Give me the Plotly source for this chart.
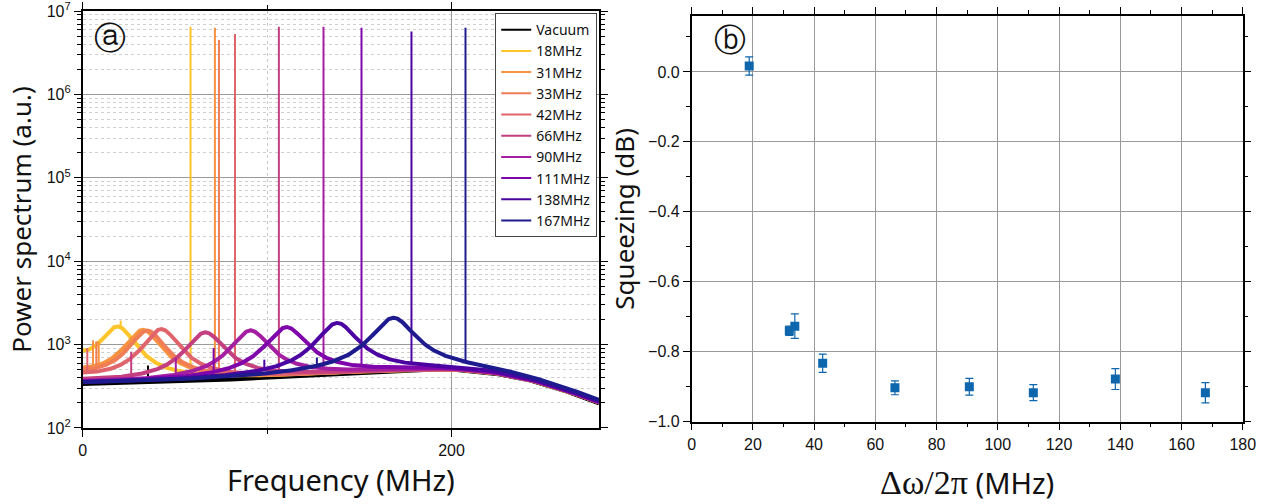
import numpy as np
import plotly.graph_objects as go

# ---------------- panel (a): power spectra ----------------
series_names = ["Vacuum", "18MHz", "31MHz", "33MHz", "42MHz", "66MHz",
                "90MHz", "111MHz", "138MHz", "167MHz"]
series_colors = ["#000000", "#fdc52a", "#f8923f", "#ef7d56", "#e0646c", "#c43f80",
                 "#a31ea1", "#7e06ab", "#4b03a1", "#1e1b8f"]

# common noise floor, read every 20 MHz
base_freq = [0, 20, 40, 60, 80, 100, 120, 140, 160, 180, 200, 220, 240, 260, 280]
base_level = [340, 345, 355, 370, 385, 405, 430, 455, 480, 500, 505, 468, 390, 290, 200]

# broad squeezing bump of each detuned series: centre (MHz), peak level, half width (MHz)
bump_center = [None, 19.0, 32.7, 35.0, 42.6, 66.5, 91.0, 110.5, 138.0, 168.5]
bump_peak = [None, 1580, 1480, 1450, 1520, 1400, 1480, 1620, 1820, 2100]
bump_hwhm = [None, 9.6, 10.0, 10.0, 10.0, 10.5, 10.5, 11.0, 11.0, 11.5]

# narrow spectral lines: position (MHz) and top level
spike_freq = [[35.4], [58.5, 20.6], [71.7, 8.7, 5.6], [73.9, 7.4], [82.6, 2.5],
              [106.4, 26.3], [130.6, 50.5], [151.2, 71.0], [178.3, 98.5], [207.6, 127.0]]
spike_level = [[560], [6.5e6, 1950], [6.3e6, 1080, 1130], [4.5e6, 1100], [5.3e6, 910],
               [6.5e6, 820], [6.5e6, 690], [6.3e6, 910], [5.7e6, 660], [6.3e6, 700]]
vacuum_scale = 0.99

freq = np.round(np.arange(0, 280.0001, 0.1), 2)

# ---------------- panel (b): squeezing vs detuning ----------------
detuning = [18.8, 31.9, 33.7, 42.8, 66.4, 90.7, 111.6, 138.4, 167.8]
squeezing = [0.017, -0.740, -0.727, -0.833, -0.903, -0.900, -0.917, -0.878, -0.917]
squeezing_err = [0.026, 0.013, 0.035, 0.026, 0.020, 0.024, 0.023, 0.030, 0.029]

a_xticks = [0, 200]
b_xticks = [0, 20, 40, 60, 80, 100, 120, 140, 160, 180]
b_yticks = [0.0, -0.2, -0.4, -0.6, -0.8, -1.0]

# ------------------------------------------------------------------
base = 10 ** np.interp(freq, base_freq, np.log10(base_level))


def lor(x, h):
    return h * h / (x * x + h * h)


fig = go.Figure()
for i, name in enumerate(series_names):
    if bump_center[i] is None:
        y = base * vacuum_scale
    else:
        c, h = bump_center[i], bump_hwhm[i]
        b_c = 10 ** np.interp(c, base_freq, np.log10(base_level))
        amp = bump_peak[i] - b_c
        y = base + amp * (lor(freq - c, h) + lor(freq + c, h))
    # broad noisy band (drawn thick)
    fig.add_trace(go.Scatter(
        x=freq, y=y, mode="lines", name=name, showlegend=False,
        line=dict(color=series_colors[i], width=4),
        xaxis="x", yaxis="y", hoverinfo="skip"))
    # narrow lines (drawn thin)
    sx, sy = [], []
    for sf, sl in zip(spike_freq[i], spike_level[i]):
        idx = int(np.argmin(np.abs(freq - sf)))
        sx += [freq[idx], freq[idx], None]
        sy += [y[idx], sl, None]
    fig.add_trace(go.Scatter(
        x=sx, y=sy, mode="lines", name=name, showlegend=True,
        line=dict(color=series_colors[i], width=2),
        xaxis="x", yaxis="y"))

blue = "#0e66ac"
fig.add_trace(go.Scatter(
    x=detuning, y=squeezing, mode="markers", showlegend=False,
    marker=dict(symbol="square", size=9, color=blue),
    error_y=dict(type="data", array=squeezing_err, color=blue, thickness=1.2, width=4),
    xaxis="x2", yaxis="y2"))

tick_font = dict(family="Liberation Sans, Arial, sans-serif", size=16, color="#111")
xtitle_font = dict(family="Noto Sans, Open Sans, sans-serif", size=29, color="#111")
ytitle_font = dict(family="Noto Sans, Open Sans, sans-serif", size=26, color="#111")

log_minor = [m * 10 ** e for e in range(2, 7) for m in range(2, 10)]

fig.update_layout(
    width=1278, height=504,
    margin=dict(l=0, r=0, t=0, b=0),
    paper_bgcolor="white", plot_bgcolor="white",
    font=dict(family="Noto Sans, Open Sans, sans-serif"),
    xaxis=dict(
        domain=[0.0647, 0.4687], range=[0, 280], anchor="y",
        tickvals=a_xticks, ticktext=[str(v) for v in a_xticks],
        ticks="outside", ticklen=7, tickwidth=1.3, tickcolor="#000",
        showline=True, linecolor="#000", linewidth=1.5, mirror="ticks",
        showgrid=True, gridcolor="#9a9a9a", gridwidth=1,
        minor=dict(tickvals=[100], ticks="outside", ticklen=4, tickcolor="#000",
                   showgrid=True, gridcolor="#c8c8c8", griddash="dot", gridwidth=1),
        tickfont=tick_font, zeroline=False, automargin=False, ticklabeloverflow="allow",
        title=dict(text="Frequency (MHz)", font=xtitle_font, standoff=13)),
    yaxis=dict(
        domain=[0.1508, 0.978], type="log", range=[2, 7], anchor="x",
        tickvals=[10 ** e for e in range(2, 8)],
        ticktext=["10<sup>%d</sup>" % e for e in range(2, 8)],
        ticks="outside", ticklen=7, tickwidth=1.3, tickcolor="#000",
        showline=True, linecolor="#000", linewidth=1.5, mirror="ticks",
        showgrid=True, gridcolor="#9a9a9a", gridwidth=1,
        minor=dict(tickvals=log_minor, ticks="outside", ticklen=4, tickcolor="#000",
                   showgrid=True, gridcolor="#cfcfcf", griddash="dot", gridwidth=1),
        tickfont=tick_font, zeroline=False, automargin=False, ticklabeloverflow="allow",
        title=dict(text="Power spectrum (a.u.)", font=ytitle_font, standoff=8)),
    xaxis2=dict(
        domain=[0.5412, 0.9724], range=[0, 180], anchor="y2",
        tickvals=b_xticks, ticktext=[str(v) for v in b_xticks],
        ticks="outside", ticklen=7, tickwidth=1.3, tickcolor="#000",
        showline=True, linecolor="#000", linewidth=1.5, mirror="ticks",
        showgrid=True, gridcolor="#9a9a9a", gridwidth=1,
        minor=dict(dtick=10, ticks="outside", ticklen=4, tickcolor="#000", showgrid=False),
        tickfont=tick_font, zeroline=False, automargin=False, ticklabeloverflow="allow",
        title=dict(text='<span style="font-family:Liberation Serif, serif;font-size:34px">Δω/2π</span> (MHz)',
                   font=xtitle_font, standoff=22)),
    yaxis2=dict(
        domain=[0.1633, 0.9683], range=[-1.0, 0.16], anchor="x2",
        tickvals=b_yticks, ticktext=["0.0", "−0.2", "−0.4", "−0.6", "−0.8", "−1.0"],
        ticks="outside", ticklen=7, tickwidth=1.3, tickcolor="#000",
        showline=True, linecolor="#000", linewidth=1.5, mirror="ticks",
        showgrid=True, gridcolor="#9a9a9a", gridwidth=1,
        minor=dict(dtick=0.1, ticks="outside", ticklen=4, tickcolor="#000", showgrid=False),
        tickfont=tick_font, zeroline=False, automargin=False, ticklabeloverflow="allow",
        title=dict(text="Squeezing (dB)", font=ytitle_font, standoff=6)),
    legend=dict(
        x=0.3875, y=0.974, xanchor="left", yanchor="top",
        bgcolor="white", bordercolor="#444", borderwidth=1,
        font=dict(family="Noto Sans, Open Sans, sans-serif", size=14, color="#111"),
        tracegroupgap=0, itemwidth=30),
    annotations=[
        dict(text="ⓐ", x=0.086, y=0.925, xref="paper", yref="paper", showarrow=False,
             xanchor="center", yanchor="middle",
             font=dict(family="DejaVu Sans", size=32, color="#111")),
        dict(text="ⓑ", x=0.571, y=0.92, xref="paper", yref="paper", showarrow=False,
             xanchor="center", yanchor="middle",
             font=dict(family="DejaVu Sans", size=32, color="#111")),
    ],
)

fig.write_html("out.html", config={"displayModeBar": False},
               post_script="document.body.style.margin='0px';")
